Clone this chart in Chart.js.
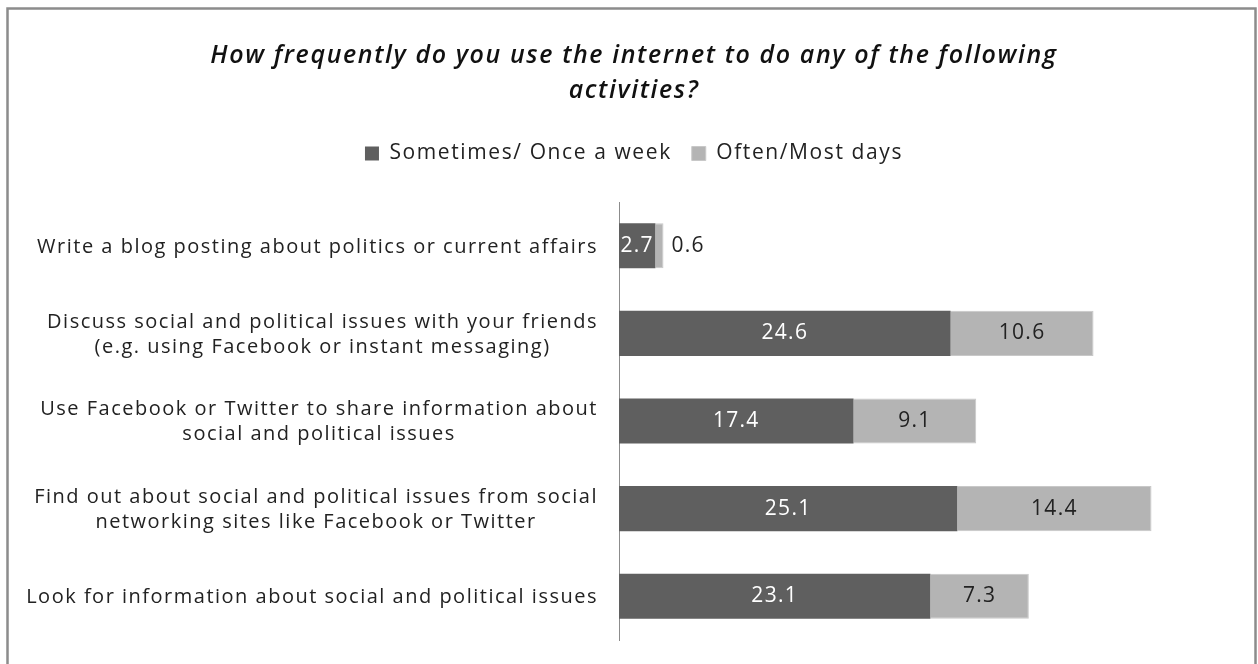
<!DOCTYPE html>
<html>
<head>
<meta charset="utf-8">
<script src="https://cdn.jsdelivr.net/npm/chart.js@4"></script>
<style>
  body { margin: 0; background: #fff; }
  canvas { display: block; }
</style>
</head>
<body>
<canvas id="chart" width="1258" height="664"></canvas>
<script>
'use strict'

let categories = [
    ['Write a blog posting about politics or current affairs'],
    ['Discuss social and political issues with your friends', '(e.g. using Facebook or instant messaging)'],
    ['Use Facebook or Twitter to share information about', 'social and political issues'],
    ['Find out about social and political issues from social', 'networking sites like Facebook or Twitter'],
    ['Look for information about social and political issues']
];
let seriesNames = ['Sometimes/ Once a week', 'Often/Most days'];
let sometimes = [2.7, 24.6, 17.4, 25.1, 23.1];
let often = [0.6, 10.6, 9.1, 14.4, 7.3];
let titleLines = ['How frequently do you use the internet to do any of the following', 'activities?'];
let xMax = 47.4;

let fontName = 'Open Sans';
// the reference text is set wide, so spread the letters a bit
let spacing = '1.6px';

// frame round the whole chart, plus the wider letter spacing
let framePlugin = {
    id: 'frame',
    beforeUpdate(chart) {
        chart.ctx.letterSpacing = spacing;
    },
    beforeDraw(chart) {
        let ctx = chart.ctx;
        ctx.letterSpacing = spacing;
        ctx.save();
        ctx.fillStyle = '#fff';
        ctx.fillRect(0, 0, chart.width, chart.height);
        ctx.strokeStyle = '#8c8c8c';
        ctx.lineWidth = 2.5;
        ctx.strokeRect(7.5, 8.5, 1248, 700);
        ctx.restore();
    }
};

// category names, right-aligned block with lines centred in it
let categoryPlugin = {
    id: 'categoryText',
    afterDraw(chart) {
        let ctx = chart.ctx;
        let yScale = chart.scales.y;
        ctx.save();
        ctx.font = '20px ' + fontName;
        ctx.letterSpacing = '1.5px';
        ctx.fillStyle = '#222';
        ctx.textAlign = 'center';
        ctx.textBaseline = 'middle';
        let rightEdge = 598;
        let lineGap = 25;
        for (let i = 0; i < categories.length; i++) {
            let lines = categories[i];
            let widest = 0;
            for (let j = 0; j < lines.length; j++) {
                widest = Math.max(widest, ctx.measureText(lines[j]).width);
            }
            let cx = rightEdge - widest / 2;
            let cy = yScale.getPixelForValue(i) + 1;
            let startY = cy - (lines.length - 1) * lineGap / 2;
            for (let j = 0; j < lines.length; j++) {
                ctx.fillText(lines[j], cx, startY + j * lineGap);
            }
        }
        ctx.restore();
    }
};

// value labels on the bars
let valuePlugin = {
    id: 'valueText',
    afterDatasetsDraw(chart) {
        let ctx = chart.ctx;
        ctx.save();
        ctx.font = '21px ' + fontName;
        ctx.letterSpacing = '1.3px';
        ctx.textBaseline = 'middle';
        chart.data.datasets.forEach((ds, d) => {
            let meta = chart.getDatasetMeta(d);
            meta.data.forEach((bar, i) => {
                let text = ds.data[i].toFixed(1);
                let w = Math.abs(bar.x - bar.base);
                if (w < ctx.measureText(text).width + 2) {
                    ctx.textAlign = 'left';
                    ctx.fillStyle = '#222';
                    ctx.fillText(text, bar.x + 8, bar.y);
                } else {
                    ctx.textAlign = 'center';
                    ctx.fillStyle = d === 0 ? '#fff' : '#222';
                    ctx.fillText(text, (bar.x + bar.base) / 2, bar.y);
                }
            });
        });
        ctx.restore();
    }
};

let data = {
    labels: categories,
    datasets: [{
        label: seriesNames[0],
        data: sometimes,
        backgroundColor: '#5f5f5f',
        borderWidth: 0
    },
    {
        label: seriesNames[1],
        data: often,
        backgroundColor: '#b4b4b4',
        borderColor: '#c8c8c8',
        borderWidth: 1
    }]
};

let config = {
    type: 'bar',
    data: data,
    options: {
        indexAxis: 'y',
        responsive: false,
        animation: false,
        devicePixelRatio: 1,
        datasets: {
            bar: {
                categoryPercentage: 1,
                barPercentage: 0.515
            }
        },
        layout: {
            padding: { left: 10, right: 0, top: 0, bottom: 24 }
        },
        scales: {
            x: {
                stacked: true,
                position: 'top',
                min: 0,
                max: xMax,
                ticks: { display: false },
                grid: { display: false, drawTicks: false },
                border: { display: false },
                afterFit(scale) { scale.height = 28; }
            },
            y: {
                stacked: true,
                ticks: { display: false },
                grid: { display: false, drawTicks: false },
                border: { display: true, color: '#8c8c8c', width: 1 },
                afterFit(scale) { scale.width = 609; }
            }
        },
        plugins: {
            title: {
                display: true,
                text: titleLines,
                color: '#111',
                font: { family: fontName, size: 25, style: 'italic', weight: '600', lineHeight: 1.4 },
                padding: { top: 38, bottom: 15 }
            },
            legend: {
                display: true,
                labels: {
                    color: '#222',
                    font: { family: fontName, size: 21 },
                    boxWidth: 14,
                    boxHeight: 14,
                    padding: 20
                }
            },
            tooltip: { enabled: false }
        }
    },
    plugins: [framePlugin, categoryPlugin, valuePlugin]
};

let canvas = document.getElementById('chart');
const chart = new Chart(canvas, config);
</script>
</body>
</html>
